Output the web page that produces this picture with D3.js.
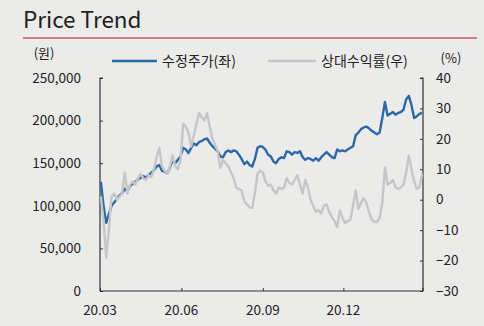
<!DOCTYPE html>
<html>
<head>
<meta charset="utf-8">
<script src="https://cdn.jsdelivr.net/npm/d3@7/dist/d3.min.js"></script>
<style>
  html, body { margin: 0; padding: 0; background: #ebebea; }
  svg { display: block; }
  text { font-family: "Noto Sans CJK KR", "Noto Sans", sans-serif; fill: #222; }
</style>
</head>
<body>
<svg id="chart" width="484" height="326"></svg>
<script>
// Sampling: one point every 3 calendar days starting 2020-03-02
const startDate = new Date(2020, 2, 2);
const stepDays = 3;

// 수정주가 (KRW, thousands)
const priceK = [
  128, 100, 80, 90, 100, 104, 108, 112, 115, 120,
  117, 123, 126, 128, 131, 133, 135, 133, 136, 139,
  142, 146, 148, 141, 140, 138, 145, 153, 150, 154,
  158, 168, 166, 162, 168, 173, 171, 175, 176, 178,
  179, 174, 170, 167, 164, 158, 157, 163, 165, 163,
  165, 164, 160, 155, 149, 152, 148, 146, 155, 168,
  170, 169, 166, 160, 158, 152, 150, 155, 157, 156,
  164, 163, 160, 163, 162, 164, 157, 154, 156, 155,
  153, 156, 153, 157, 160, 163, 160, 157, 156, 166,
  164, 165, 164, 166, 168, 170, 183, 186, 190, 192,
  193, 191, 188, 186, 184, 186, 203, 222, 206, 208,
  210, 207, 209, 210, 213, 225, 229, 218, 203, 205,
  208, 209
];

// 상대수익률 (%)
const relative = [
  1, -7, -19, -10, 1, 2, 0, 1, 2, 9,
  2, 5, 6, 5, 7, 8.5, 7, 6.5, 8, 7.5,
  10, 14, 17, 11, 9.5, 8.5, 11, 14.5, 11, 10,
  13, 25, 24, 22, 17.5, 21, 25, 28.5, 27, 26,
  28.5, 24, 20, 18, 16, 10.5, 13, 12, 11, 9,
  7, 4, 3.5, 3, -0.5, -1.5, -2.5, -2.7, 2, 8.5,
  9.5, 9, 6, 4.5, 5, 3, 2, 4, 3.5, 4,
  7, 5.5, 5, 6.5, 8, 5, 2, 6.5, 4, 0,
  -2, -4, -3.5, -4.5, -2, -1.5, -4, -5.7, -7, -9,
  -3.5, -6, -7.7, -7, -6.5, -2, 3, -3, -1, 0.5,
  -1, -4, -6.5, -7.3, -7.3, -6, -1, 10.5, 5, 5.5,
  6.5, 4, 3.5, 4, 5, 9, 14.5, 10, 6, 3.5,
  4, 8.5
];

const leftTicks = [0, 50000, 100000, 150000, 200000, 250000];
const rightTicks = [-30, -20, -10, 0, 10, 20, 30, 40];
const xTickDates = [new Date(2020, 2, 1), new Date(2020, 5, 1), new Date(2020, 8, 1), new Date(2020, 11, 1)];
const xTickLabels = ["20.03", "20.06", "20.09", "20.12"];

const titleText = "Price Trend";
const seriesNames = ["수정주가(좌)", "상대수익률(우)"];
const leftUnit = "(원)";
const rightUnit = "(%)";

const dates = priceK.map((_, i) => d3.timeDay.offset(startDate, i * stepDays));
const priceData = priceK.map((v, i) => ({ date: dates[i], value: v * 1000 }));
const relData = relative.map((v, i) => ({ date: dates[i], value: v }));

const svg = d3.select("#chart");
const plot = { left: 100, right: 423, top: 78, bottom: 291 };

const x = d3.scaleTime()
  .domain([new Date(2020, 2, 1), new Date(2021, 2, 1)])
  .range([plot.left, plot.right]);
const yL = d3.scaleLinear().domain([0, 250000]).range([plot.bottom, plot.top]);
const yR = d3.scaleLinear().domain([-30, 40]).range([plot.bottom, plot.top]);

// Title and rule
svg.append("text")
  .attr("x", 23).attr("y", 28)
  .style("font-size", "22.5px")
  .style("fill", "#1e1e1e")
  .text(titleText);
svg.append("line")
  .attr("x1", 23).attr("x2", 477).attr("y1", 38).attr("y2", 38)
  .attr("stroke", "#c9546c").attr("stroke-width", 1.5);

// Units
svg.append("text").attr("x", 44).attr("y", 58).attr("text-anchor", "middle")
  .style("font-size", "13px").text(leftUnit);
svg.append("text").attr("x", 451).attr("y", 63).attr("text-anchor", "middle")
  .style("font-size", "13px").text(rightUnit);

// Legend
const legend = [
  { name: seriesNames[0], color: "#2c68a8", x1: 112, x2: 157, tx: 162 },
  { name: seriesNames[1], color: "#c6c6c6", x1: 268, x2: 316, tx: 321 }
];
legend.forEach(l => {
  svg.append("line").attr("x1", l.x1).attr("x2", l.x2).attr("y1", 61).attr("y2", 61)
    .attr("stroke", l.color).attr("stroke-width", 2.5);
  svg.append("text").attr("x", l.tx).attr("y", 66)
    .style("font-size", "14px").text(l.name);
});

// Axes
const axisColor = "#333";
const gL = svg.append("g").attr("transform", `translate(${plot.left},0)`)
  .call(d3.axisRight(yL).tickValues(leftTicks).tickSize(3).tickFormat(() => ""));
const gR = svg.append("g").attr("transform", `translate(${plot.right},0)`)
  .call(d3.axisLeft(yR).tickValues(rightTicks).tickSize(3).tickFormat(() => ""));
const gB = svg.append("g").attr("transform", `translate(0,${plot.bottom})`)
  .call(d3.axisTop(x).tickValues(xTickDates).tickSize(3).tickFormat(() => ""));
[gL, gR, gB].forEach(g => {
  g.select(".domain").attr("stroke", axisColor).attr("stroke-width", 1.2);
  g.selectAll(".tick line").attr("stroke", axisColor);
});
gL.select(".domain").attr("d", `M3,${plot.top}H0V${plot.bottom}`);
gR.select(".domain").attr("d", `M-3,${plot.top}H0V${plot.bottom}`);
gB.select(".domain").attr("d", `M${plot.left},0H${plot.right}V-3`);

// Tick labels
const fmt = d3.format(",");
svg.append("g").selectAll("text").data(leftTicks).join("text")
  .attr("x", 81).attr("y", d => yL(d)).attr("dy", "0.35em")
  .attr("text-anchor", "end").style("font-size", "13.5px")
  .text(d => fmt(d));
svg.append("g").selectAll("text").data(rightTicks).join("text")
  .attr("x", 436).attr("y", d => yR(d)).attr("dy", "0.35em")
  .style("font-size", "13.5px")
  .text(d => d < 0 ? "\u2212" + Math.abs(d) : d);
svg.append("g").selectAll("text").data(xTickDates).join("text")
  .attr("x", d => x(d)).attr("y", 315)
  .attr("text-anchor", "middle").style("font-size", "13.5px")
  .text((d, i) => xTickLabels[i]);

// Lines
const linePrice = d3.line().x(d => x(d.date)).y(d => yL(d.value));
const lineRel = d3.line().x(d => x(d.date)).y(d => yR(d.value));

svg.append("path").datum(priceData)
  .attr("fill", "none").attr("stroke", "#2c68a8").attr("stroke-width", 2.4)
  .attr("stroke-linejoin", "round").attr("d", linePrice);
svg.append("path").datum(relData)
  .attr("fill", "none").attr("stroke", "#c6c6c6").attr("stroke-width", 2.4)
  .attr("stroke-linejoin", "round").attr("d", lineRel);
</script>
</body>
</html>
